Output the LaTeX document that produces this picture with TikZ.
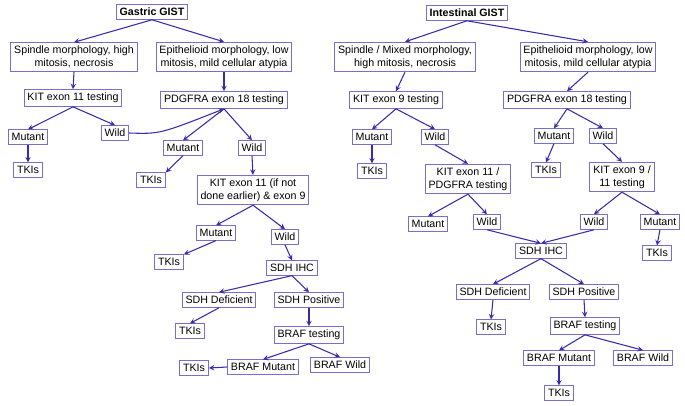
\documentclass[tikz,border=0pt]{standalone}
\usepackage{fontspec}
\setmainfont{Liberation Sans}
\definecolor{boxline}{RGB}{120,112,200}
\definecolor{arrline}{RGB}{55,45,170}
\tikzset{
box/.style={
  rectangle,
  draw=boxline,
  thick,
  align=center,
  inner sep=0.25em,
  font=\fontsize{8}{9.5}\selectfont,
},
arr/.style={->, draw=arrline, thick},
}
\begin{document}
\begin{tikzpicture}[x=0.75pt, y=-0.75pt, >=stealth]
\useasboundingbox (0,0) rectangle (685,405);
%gastric side
\node[box, font=\fontsize{8}{9.5}\selectfont\bfseries](gastric) at (152,12) {Gastric GIST};
\node[box](gspindle) at (74,57) {Spindle morphology, high\\mitosis, necrosis};
\node[box](gepith) at (224,57) {Epithelioid morphology, low\\mitosis, mild cellular atypia};
\node[box](gkit) at (73,98) {KIT exon 11 testing};
\node[box](gpdg) at (224,100) {PDGFRA exon 18 testing};
\node[box](gmutA) at (28,137) {Mutant};
\node[box](gwildA) at (115,133) {Wild};
\node[box](gtkiA) at (28,170) {TKIs};
\node[box](gmutB) at (183,148) {Mutant};
\node[box](gwildB) at (252,148) {Wild};
\node[box](gtkiB) at (151,180) {TKIs};
\node[box](gkitnine) at (253,190) {KIT exon 11 (if not\\done earlier) \& exon 9};
\node[box](gmutC) at (216,233) {Mutant};
\node[box](gwildC) at (285,237) {Wild};
\node[box](gtkiC) at (169,262) {TKIs};
\node[box](gsdh) at (292,268) {SDH IHC};
\node[box](gsdhdef) at (219,300) {SDH Deficient};
\node[box](gsdhpos) at (309,300) {SDH Positive};
\node[box](gtkiD) at (190,331) {TKIs};
\node[box](gbraf) at (309,335) {BRAF testing};
\node[box](gbrafmut) at (263,367) {BRAF Mutant};
\node[box](gbrafwild) at (340,365) {BRAF Wild};
\node[box](gtkiE) at (194,368) {TKIs};

\draw[arr](gastric.south) -- (gspindle.north);
\draw[arr](gastric.south) -- (gepith.north);
\draw[arr](gspindle.south) -- (gkit.north);
\draw[arr](gepith.south) -- (gpdg.north);
\draw[arr](gkit.south) -- (gmutA.north);
\draw[arr](gkit.south) -- (gwildA.north);
\draw[arr](gmutA.south) -- (gtkiA.north);
\draw[arr](gwildA.east) .. controls (160,134) .. (gpdg.south);
\draw[arr](gpdg.south) -- (gmutB.north);
\draw[arr](gpdg.south) -- (gwildB.north);
\draw[arr](gmutB.south) -- (gtkiB.north east);
\draw[arr](gwildB.south) -- (gkitnine.north);
\draw[arr](gkitnine.south) -- (gmutC.north);
\draw[arr](gkitnine.south) -- (gwildC.north);
\draw[arr](gmutC.south) -- (gtkiC.north east);
\draw[arr](gwildC.south) -- (gsdh.north);
\draw[arr](gsdh.south) -- (gsdhdef.north);
\draw[arr](gsdh.south) -- (gsdhpos.north);
\draw[arr](gsdhdef.south) -- (gtkiD.north);
\draw[arr](gsdhpos.south) -- (gbraf.north);
\draw[arr](gbraf.south) -- (gbrafmut.north);
\draw[arr](gbraf.south) -- (gbrafwild.north);
\draw[arr](gbrafmut.west) -- (gtkiE.east);

%intestinal side
\node[box, font=\fontsize{8}{9.5}\selectfont\bfseries](intest) at (467,13) {Intestinal GIST};
\node[box](ispindle) at (405,57) {Spindle / Mixed morphology,\\high mitosis, necrosis};
\node[box](iepith) at (588,57) {Epithelioid morphology, low\\mitosis, mild cellular atypia};
\node[box](ikit) at (396,100) {KIT exon 9 testing};
\node[box](ipdg) at (567,100) {PDGFRA exon 18 testing};
\node[box](imutA) at (372,137) {Mutant};
\node[box](iwildA) at (435,137) {Wild};
\node[box](imutB) at (554,136) {Mutant};
\node[box](iwildB) at (603,136) {Wild};
\node[box](itkiA) at (372,171) {TKIs};
\node[box](ikitpdg) at (468,179) {KIT exon 11 /\\PDGFRA testing};
\node[box](itkiB) at (546,170) {TKIs};
\node[box](ikitnine) at (622,177) {KIT exon 9 /\\11 testing};
\node[box](imutC) at (428,224) {Mutant};
\node[box](iwildC) at (487,222) {Wild};
\node[box](iwildD) at (594,222) {Wild};
\node[box](imutD) at (660,222) {Mutant};
\node[box](itkiC) at (657,253) {TKIs};
\node[box](isdh) at (541,251) {SDH IHC};
\node[box](isdhdef) at (493,292) {SDH Deficient};
\node[box](isdhpos) at (584,292) {SDH Positive};
\node[box](itkiD) at (491,327) {TKIs};
\node[box](ibraf) at (585,326) {BRAF testing};
\node[box](ibrafmut) at (559,358) {BRAF Mutant};
\node[box](ibrafwild) at (643,358) {BRAF Wild};
\node[box](itkiE) at (559,393) {TKIs};

\draw[arr](intest.south) -- (ispindle.north);
\draw[arr](intest.south) -- (iepith.north);
\draw[arr](ispindle.south) -- (ikit.north);
\draw[arr](iepith.south) -- (ipdg.north);
\draw[arr](ikit.south) -- (imutA.north);
\draw[arr](ikit.south) -- (iwildA.north);
\draw[arr](ipdg.south) -- (imutB.north);
\draw[arr](ipdg.south) -- (iwildB.north);
\draw[arr](imutA.south) -- (itkiA.north);
\draw[arr](iwildA.south) -- (ikitpdg.north);
\draw[arr](imutB.south) -- (itkiB.north);
\draw[arr](iwildB.south) -- (ikitnine.north);
\draw[arr](ikitpdg.south) -- (imutC.north);
\draw[arr](ikitpdg.south) -- (iwildC.north);
\draw[arr](ikitnine.south) -- (iwildD.north);
\draw[arr](ikitnine.south) -- (imutD.north);
\draw[arr](imutD.south) -- (itkiC.north);
\draw[arr](iwildC.south) -- (isdh.north);
\draw[arr](iwildD.south) -- (isdh.north);
\draw[arr](isdh.south) -- (isdhdef.north);
\draw[arr](isdh.south) -- (isdhpos.north);
\draw[arr](isdhdef.south) -- (itkiD.north);
\draw[arr](isdhpos.south) -- (ibraf.north);
\draw[arr](ibraf.south) -- (ibrafmut.north);
\draw[arr](ibraf.south) -- (ibrafwild.north);
\draw[arr](ibrafmut.south) -- (itkiE.north);
\end{tikzpicture}
\end{document}
